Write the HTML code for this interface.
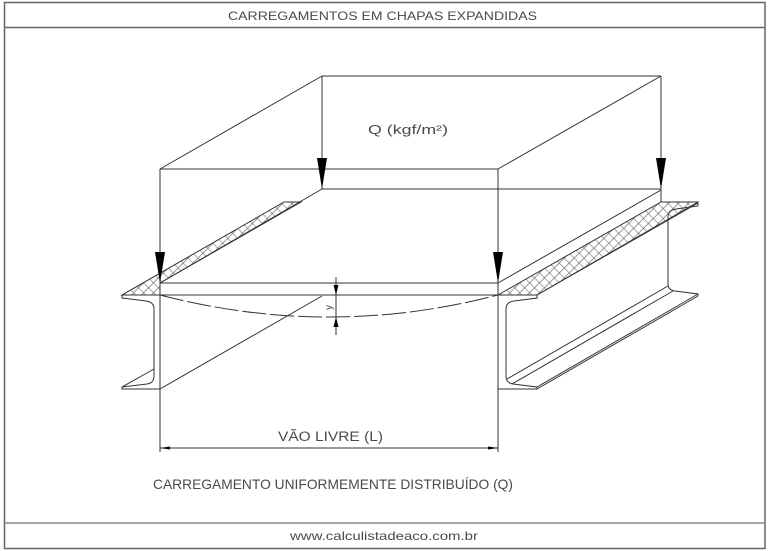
<!DOCTYPE html>
<html>
<head>
<meta charset="utf-8">
<style>
  html,body{margin:0;padding:0;background:#fff;}
  svg{display:block;}
  text{font-family:"Liberation Sans",sans-serif;fill:#4a4a4a;}
</style>
</head>
<body>
<svg width="768" height="551" viewBox="0 0 768 551" xmlns="http://www.w3.org/2000/svg">
  <defs>
    <pattern id="hx" width="7" height="7" patternUnits="userSpaceOnUse" patternTransform="rotate(45)">
      <path d="M0,0.5 H7 M0.5,0 V7" stroke="#555" stroke-width="0.6" fill="none"/>
    </pattern>
  </defs>

  <!-- frame -->
  <rect x="4.5" y="2.5" width="760.5" height="546" fill="none" stroke="#666" stroke-width="1.5"/>
  <line x1="4.5" y1="27.5" x2="765" y2="27.5" stroke="#666" stroke-width="1.5"/>
  <line x1="4.5" y1="523" x2="765" y2="523" stroke="#888" stroke-width="1.5"/>

  <!-- titles -->
  <text x="228" y="20" font-size="12" textLength="309" lengthAdjust="spacingAndGlyphs">CARREGAMENTOS  EM  CHAPAS  EXPANDIDAS</text>
  <text x="290" y="540" font-size="12" textLength="188" lengthAdjust="spacingAndGlyphs">www.calculistadeaco.com.br</text>

  <g stroke="#333" stroke-width="1" fill="none">
    <!-- hatched strips -->
    <path d="M122,295 L284,202 L301,202 L160,283 L160,295 Z" fill="url(#hx)"/>
    <path d="M498,295 L661,202 L698,202 L537,295 Z" fill="url(#hx)"/>

    <!-- load box -->
    <line x1="322" y1="76" x2="661" y2="76"/>
    <line x1="160" y1="169" x2="498" y2="169"/>
    <line x1="160" y1="169" x2="322" y2="76"/>
    <line x1="498" y1="169" x2="661" y2="76"/>
    <line x1="322" y1="76" x2="322" y2="189"/>
    <line x1="661" y1="76" x2="661" y2="202"/>
    <line x1="160" y1="169" x2="160" y2="452"/>
    <line x1="498" y1="169" x2="498" y2="452"/>

    <!-- plate -->
    <line x1="160" y1="283" x2="498" y2="283"/>
    <line x1="122" y1="295" x2="537" y2="295"/>
    <line x1="160" y1="283" x2="322" y2="189"/>
    <line x1="322" y1="189" x2="661" y2="189"/>
    <line x1="498" y1="283" x2="661" y2="190"/>

    <!-- left channel profile -->
    <path d="M160,295 L122,295 L122,298 L146,301 Q154,302 154,309 L154,376 Q154,383 147,384 L122,387 L122,389 L160,389"/>
    <line x1="160" y1="389" x2="322" y2="296"/>
    <line x1="122" y1="387" x2="154" y2="369"/>

    <!-- right channel profile -->
    <path d="M498,389 L537,389 L537,387 L513,384 Q506,383 506,376 L506,309 Q506,302 514,301 L537,298 L537,295"/>
    <line x1="537" y1="295" x2="698" y2="203"/>
    <path d="M698,203 L698,206 L676,209 Q668,210 668,217 L668,284 Q668,290 675,291 L698,294 L698,296"/>
    <line x1="507" y1="379" x2="668" y2="286"/>
    <line x1="512" y1="384" x2="673" y2="291"/>
    <line x1="537" y1="387" x2="698" y2="294"/>
    <line x1="537" y1="389" x2="698" y2="296"/>

    <!-- deflection curve -->
    <path d="M160,295 Q329,339 498,295" stroke-dasharray="24 4"/>

    <!-- y dimension -->
    <line x1="336" y1="277" x2="336" y2="335"/>

    <!-- span dimension -->
    <line x1="160" y1="448" x2="498" y2="448"/>
  </g>

  <!-- load arrowheads -->
  <g fill="#000">
    <polygon points="317,158 327,158 322,189"/>
    <polygon points="656,158 666,158 661,189"/>
    <polygon points="155,252 165,252 160,283"/>
    <polygon points="493,252 503,252 498,283"/>
    <!-- y dim arrows -->
    <polygon points="333.5,285 338.5,285 336,295"/>
    <polygon points="333.5,327 338.5,327 336,317"/>
    <!-- span arrows -->
    <polygon points="160,448 170,446.5 170,449.5"/>
    <polygon points="498,448 488,446.5 488,449.5"/>
  </g>

  <!-- labels -->
  <text x="368" y="134" font-size="13" textLength="80" lengthAdjust="spacingAndGlyphs">Q  (kgf/m²)</text>
  <text transform="translate(332,310) rotate(-90)" font-size="10">y</text>
  <text x="278" y="441" font-size="13.5" textLength="105" lengthAdjust="spacingAndGlyphs">VÃO  LIVRE  (L)</text>
  <text x="153" y="489" font-size="14" textLength="360" lengthAdjust="spacingAndGlyphs">CARREGAMENTO  UNIFORMEMENTE  DISTRIBUÍDO  (Q)</text>
</svg>
</body>
</html>
